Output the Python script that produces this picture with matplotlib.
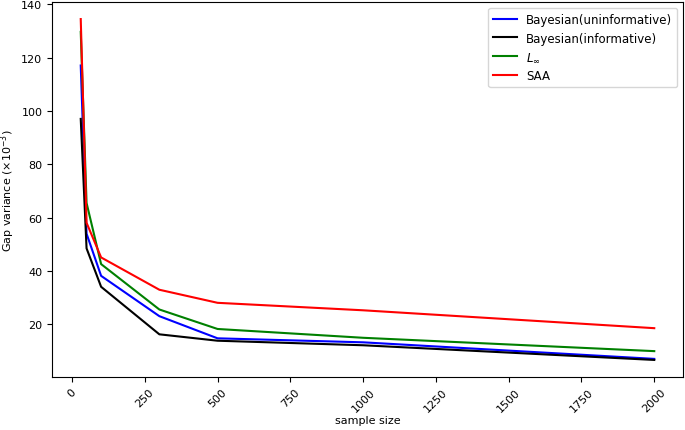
import matplotlib
matplotlib.use('Agg')
import matplotlib.pyplot as plt

plt.rcParams['font.size'] = 8

# sample sizes and gap variances (x1e-3)
sample_sizes = [30, 50, 100, 300, 500, 1000, 2000]
bayes_uninf = [117, 54, 38.2, 23.1, 14.8, 13.3, 7.1]
bayes_inf = [97, 48.5, 34.1, 16.3, 13.9, 12.2, 6.7]
l_inf = [129.6, 65.5, 42.6, 25.6, 18.3, 15.0, 10.0]
saa = [134.4, 58.1, 45.1, 33.0, 28.1, 25.3, 18.6]

fig, ax = plt.subplots(figsize=(6.85, 4.31), dpi=100)
fig.subplots_adjust(left=0.076, right=0.997, top=0.993, bottom=0.123)

ax.plot(sample_sizes, bayes_uninf, color='blue', label='Bayesian(uninformative)')
ax.plot(sample_sizes, bayes_inf, color='black', label='Bayesian(informative)')
ax.plot(sample_sizes, l_inf, color='green', label=r'$L_\infty$')
ax.plot(sample_sizes, saa, color='red', label='SAA')

ax.set_xlabel('sample size', labelpad=1)
ax.set_ylabel(r'Gap variance ($\times 10^{-3}$)', labelpad=3)
ax.set_xticks([0, 250, 500, 750, 1000, 1250, 1500, 1750, 2000])
ax.set_yticks([20, 40, 60, 80, 100, 120, 140])
plt.setp(ax.get_xticklabels(), rotation=45)
ax.legend(loc='upper right', fontsize=8.5)

fig.savefig('out.png', dpi=100)
